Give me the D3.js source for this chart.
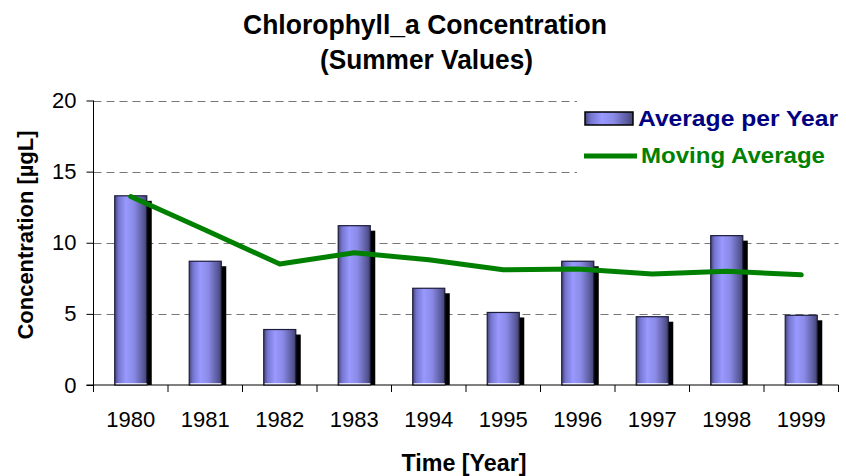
<!DOCTYPE html>
<html>
<head>
<meta charset="utf-8">
<script src="https://cdn.jsdelivr.net/npm/d3@7"></script>
<style>
  html, body { margin: 0; padding: 0; background: #fff; }
  svg { display: block; font-family: Arial, "Liberation Sans", sans-serif; }
</style>
</head>
<body>
<svg id="chart" width="846" height="476"></svg>
<script>
const years = ["1980", "1981", "1982", "1983", "1994", "1995", "1996", "1997", "1998", "1999"];
const averagePerYear = [13.3, 8.7, 3.9, 11.2, 6.8, 5.1, 8.7, 4.8, 10.5, 4.9];
const movingAverage = [13.25, 10.9, 8.5, 9.3, 8.8, 8.1, 8.15, 7.8, 8.0, 7.75];
const yTicks = [0, 5, 10, 15, 20];

const svg = d3.select("#chart");
const pLeft = 93.5, pRight = 838.5, pTop = 100.5, pBottom = 385;

const x = d3.scaleBand().domain(years).range([pLeft, pRight]).paddingInner(0).paddingOuter(0);
const y = d3.scaleLinear().domain([0, 20]).range([pBottom, pTop]);

// gradient
const defs = svg.append("defs");
const grad = defs.append("linearGradient").attr("id", "barGrad")
  .attr("x1", "0%").attr("x2", "100%").attr("y1", "0%").attr("y2", "0%");
grad.append("stop").attr("offset", "0%").attr("stop-color", "#45457a");
grad.append("stop").attr("offset", "12%").attr("stop-color", "#7575d0");
grad.append("stop").attr("offset", "35%").attr("stop-color", "#9999ff");
grad.append("stop").attr("offset", "60%").attr("stop-color", "#8a8ae6");
grad.append("stop").attr("offset", "88%").attr("stop-color", "#5a5a9e");
grad.append("stop").attr("offset", "100%").attr("stop-color", "#44446f");

// gridlines
svg.append("g").selectAll("line").data(yTicks.filter(d => d > 0)).join("line")
  .attr("x1", pLeft).attr("x2", pRight)
  .attr("y1", d => Math.round(y(d)) + 0.5).attr("y2", d => Math.round(y(d)) + 0.5)
  .attr("stroke", "#777").attr("stroke-width", 1.2).attr("stroke-dasharray", "8,5");

// legend background covers gridlines
svg.append("rect").attr("x", 577).attr("y", 95).attr("width", 265).attr("height", 78).attr("fill", "#fff");

// bars
const bw = x.bandwidth() * 0.43;
const barG = svg.append("g");
years.forEach((yr, i) => {
  const cx = x(yr) + x.bandwidth() / 2;
  const bx = cx - bw / 2;
  const by = y(averagePerYear[i]);
  barG.append("rect").attr("x", bx + 5).attr("y", by + 5)
    .attr("width", bw).attr("height", pBottom - by - 5).attr("fill", "#000");
  barG.append("rect").attr("x", bx).attr("y", by)
    .attr("width", bw).attr("height", pBottom - by)
    .attr("fill", "url(#barGrad)").attr("stroke", "#1c1c3c").attr("stroke-width", 1.2);
  barG.append("line").attr("x1", bx + 1).attr("x2", bx + bw).attr("y1", pBottom - 1).attr("y2", pBottom - 1)
    .attr("stroke", "#fff").attr("stroke-width", 1.5);
});

// axes
const yAxis = d3.axisLeft(y).tickValues(yTicks).tickSize(7).tickPadding(10);
const yg = svg.append("g").attr("transform", `translate(${pLeft},0)`).call(yAxis);
yg.select(".domain").attr("stroke", "#000").attr("d", `M0,${pTop}V${pBottom}`);
yg.selectAll(".tick line").attr("stroke", "#000");
yg.selectAll("text").attr("font-size", 22).attr("fill", "#000").attr("font-family", "Arial, 'Liberation Sans', sans-serif");

const xAxis = d3.axisBottom(x).tickSize(0).tickPadding(0);
const xg = svg.append("g").attr("transform", `translate(0,${pBottom})`).call(xAxis);
xg.select(".domain").attr("stroke", "#000").attr("d", `M${pLeft - 7},0H${pRight}`);
xg.selectAll("text").attr("font-size", 22).attr("fill", "#000").attr("dy", 0).attr("y", 42)
  .attr("font-family", "Arial, 'Liberation Sans', sans-serif");
// boundary ticks
xg.append("g").selectAll("line").data(years.concat(["end"])).join("line")
  .attr("x1", (d, i) => pLeft + i * x.bandwidth()).attr("x2", (d, i) => pLeft + i * x.bandwidth())
  .attr("y1", 0).attr("y2", 7).attr("stroke", "#000");

// moving average line
const line = d3.line().x((d, i) => x(years[i]) + x.bandwidth() / 2).y(d => y(d));
svg.append("path").datum(movingAverage).attr("d", line)
  .attr("fill", "none").attr("stroke", "#008000").attr("stroke-width", 5)
  .attr("stroke-linejoin", "round").attr("stroke-linecap", "round");

// legend
svg.append("rect").attr("x", 585).attr("y", 112).attr("width", 48).attr("height", 13)
  .attr("fill", "url(#barGrad)").attr("stroke", "#000").attr("stroke-width", 1.5);
svg.append("text").attr("x", 638).attr("y", 126).text("Average per Year")
  .attr("font-size", 22).attr("font-weight", "bold").attr("fill", "#000080")
  .attr("textLength", 200).attr("lengthAdjust", "spacingAndGlyphs");
svg.append("line").attr("x1", 584).attr("x2", 637).attr("y1", 156).attr("y2", 156)
  .attr("stroke", "#008000").attr("stroke-width", 5);
svg.append("text").attr("x", 641).attr("y", 163).text("Moving Average")
  .attr("font-size", 22).attr("font-weight", "bold").attr("fill", "#008000")
  .attr("textLength", 184).attr("lengthAdjust", "spacingAndGlyphs");

// titles
svg.append("text").attr("x", 425).attr("y", 34).attr("text-anchor", "middle")
  .attr("font-size", 27).attr("font-weight", "bold").text("Chlorophyll_a Concentration")
  .attr("textLength", 364).attr("lengthAdjust", "spacingAndGlyphs");
svg.append("text").attr("x", 426.5).attr("y", 69).attr("text-anchor", "middle")
  .attr("font-size", 27).attr("font-weight", "bold").text("(Summer Values)")
  .attr("textLength", 213).attr("lengthAdjust", "spacingAndGlyphs");

svg.append("text").attr("transform", "translate(33,235) rotate(-90)").attr("text-anchor", "middle")
  .attr("font-size", 22).attr("font-weight", "bold").text("Concentration [µgL]")
  .attr("textLength", 209).attr("lengthAdjust", "spacingAndGlyphs");
svg.append("text").attr("x", 464).attr("y", 471).attr("text-anchor", "middle")
  .attr("font-size", 23).attr("font-weight", "bold").text("Time [Year]")
  .attr("textLength", 125).attr("lengthAdjust", "spacingAndGlyphs");
</script>
</body>
</html>
